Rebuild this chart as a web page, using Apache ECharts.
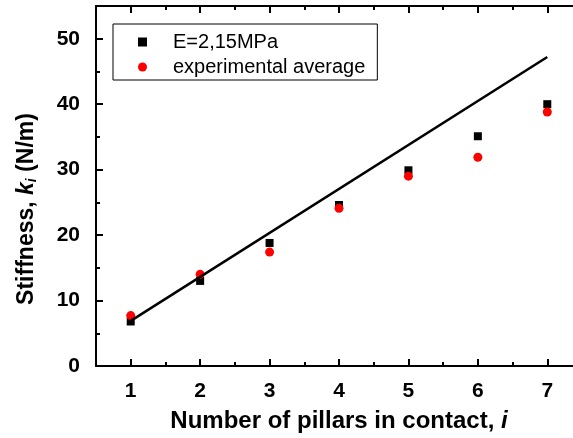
<!DOCTYPE html>
<html>
<head>
<meta charset="utf-8">
<script src="https://cdn.jsdelivr.net/npm/echarts@6/dist/echarts.min.js"></script>
<style>
html,body{margin:0;padding:0;background:#fff}
#main{width:573px;height:438px}
</style>
</head>
<body>
<div id="main"></div>
<script>
// 数据
var pillars = [1, 2, 3, 4, 5, 6, 7];
var modelK = [6.8, 13.0, 18.8, 24.6, 29.9, 35.1, 40.0];
var expK = [7.7, 14.0, 17.4, 24.1, 29.0, 31.9, 38.8];
var fitX = [1, 7];
var fitK = [6.9, 47.2];
var xTicks = [1, 2, 3, 4, 5, 6, 7];
var xMinorTicks = [1.5, 2.5, 3.5, 4.5, 5.5, 6.5];
var yTicks = [0, 10, 20, 30, 40, 50];
var yMinorTicks = [5, 15, 25, 35, 45];

var FONT = '"Liberation Sans", Arial, sans-serif';

function pairs(xs, ys) {
	var out = [];
	for (var i = 0; i < xs.length; i++) {
		out.push([xs[i], ys[i]]);
	}
	return out;
}

function titleStyle(size, italic) {
	return { fontFamily: FONT, fontWeight: 'bold', fontSize: size, color: '#000', fontStyle: italic ? 'italic' : 'normal' };
}

function build_chart() {
	var option = {
		animation: false,
		backgroundColor: '#fff',
		grid: [
			{ left: 96, top: 6, width: 486, height: 360, outerBoundsMode: 'none' },
			{ left: 96, top: 6, width: 486, height: 360, outerBoundsMode: 'none' }
		],
		legend: {
			left: 113,
			top: 24,
			orient: 'vertical',
			data: ['E=2,15MPa', 'experimental average'],
			borderColor: '#000',
			borderWidth: 1,
			padding: [8, 12, 3, 25],
			itemGap: 5,
			itemWidth: 9,
			itemHeight: 9,
			textStyle: {
				fontFamily: FONT,
				fontSize: 20,
				color: '#000',
				lineHeight: 20,
				padding: [0, 0, 0, 21]
			}
		},
		xAxis: [{
			// 下轴 主刻度
			type: 'value',
			gridIndex: 0,
			position: 'bottom',
			min: 0.5,
			max: 7.5,
			axisLine: { show: true, onZero: false, lineStyle: { color: '#000', width: 2 } },
			axisTick: { show: true, inside: true, length: 7, customValues: xTicks, lineStyle: { color: '#000', width: 2 } },
			axisLabel: { customValues: xTicks, margin: 15, color: '#000', fontSize: 21, fontWeight: 'bold', fontFamily: FONT },
			splitLine: { show: false },
			name: '{t|Number of pillars in contact, }{it|i}',
			nameLocation: 'middle',
			nameGap: 43,
			nameTextStyle: {
				rich: {
					t: titleStyle(24, false),
					it: titleStyle(24, true)
				}
			}
		}, {
			// 上轴 主刻度
			type: 'value',
			gridIndex: 0,
			position: 'top',
			min: 0.5,
			max: 7.5,
			axisLine: { show: true, onZero: false, lineStyle: { color: '#000', width: 2 } },
			axisTick: { show: true, inside: true, length: 7, customValues: xTicks, lineStyle: { color: '#000', width: 2 } },
			axisLabel: { show: false },
			splitLine: { show: false }
		}, {
			// 下轴 次刻度
			type: 'value',
			gridIndex: 1,
			position: 'bottom',
			min: 0.5,
			max: 7.5,
			axisLine: { show: false },
			axisTick: { show: true, inside: true, length: 4, customValues: xMinorTicks, lineStyle: { color: '#000', width: 2 } },
			axisLabel: { show: false },
			splitLine: { show: false }
		}, {
			// 上轴 次刻度
			type: 'value',
			gridIndex: 1,
			position: 'top',
			min: 0.5,
			max: 7.5,
			axisLine: { show: false },
			axisTick: { show: true, inside: true, length: 4, customValues: xMinorTicks, lineStyle: { color: '#000', width: 2 } },
			axisLabel: { show: false },
			splitLine: { show: false }
		}],
		yAxis: [{
			type: 'value',
			gridIndex: 0,
			position: 'left',
			min: 0,
			max: 55,
			axisLine: { show: true, onZero: false, lineStyle: { color: '#000', width: 2 } },
			axisTick: { show: true, inside: true, length: 7, customValues: yTicks, lineStyle: { color: '#000', width: 2 } },
			axisLabel: { customValues: yTicks, margin: 16, color: '#000', fontSize: 21, fontWeight: 'bold', fontFamily: FONT },
			splitLine: { show: false },
			name: '{t|Stiffness, }{it|k}{sub|i}{t| (N/m)}',
			nameLocation: 'middle',
			nameGap: 57,
			nameTextStyle: {
				padding: [0, 46, 0, 0],
				rich: {
					t: titleStyle(23, false),
					it: titleStyle(23, true),
					sub: { fontFamily: FONT, fontWeight: 'bold', fontSize: 14, color: '#000', fontStyle: 'italic', verticalAlign: 'bottom', padding: [10, 0, 0, 0] }
				}
			}
		}, {
			type: 'value',
			gridIndex: 1,
			position: 'left',
			min: 0,
			max: 55,
			axisLine: { show: false },
			axisTick: { show: true, inside: true, length: 4, customValues: yMinorTicks, lineStyle: { color: '#000', width: 2 } },
			axisLabel: { show: false },
			splitLine: { show: false }
		}],
		series: [{
			name: 'fit',
			type: 'line',
			xAxisIndex: 0,
			yAxisIndex: 0,
			data: pairs(fitX, fitK),
			symbol: 'none',
			lineStyle: { color: '#000', width: 2.5 },
			silent: true
		}, {
			name: 'E=2,15MPa',
			type: 'scatter',
			xAxisIndex: 0,
			yAxisIndex: 0,
			data: pairs(pillars, modelK),
			symbol: 'rect',
			symbolSize: 8,
			itemStyle: { color: '#000', opacity: 1 }
		}, {
			name: 'experimental average',
			type: 'scatter',
			xAxisIndex: 0,
			yAxisIndex: 0,
			data: pairs(pillars, expK),
			symbol: 'circle',
			symbolSize: 9,
			itemStyle: { color: '#ff0000', opacity: 1 }
		}]
	};
	var myChart = echarts.init(document.getElementById('main'));
	myChart.setOption(option, true);
}

build_chart();
</script>
</body>
</html>
